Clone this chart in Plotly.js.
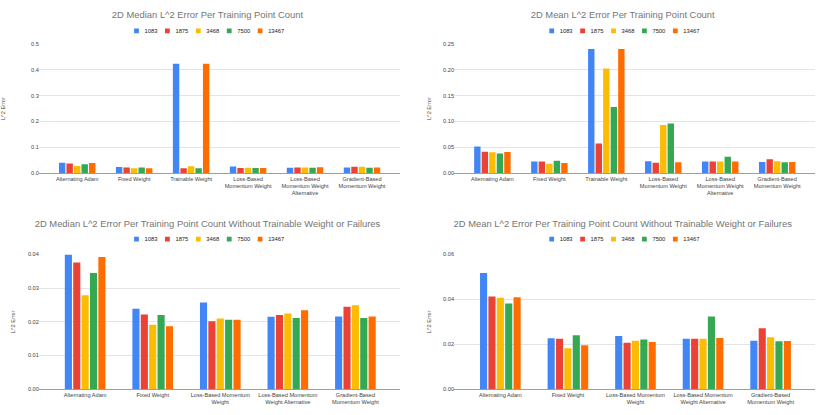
<!DOCTYPE html>
<html>
<head>
<meta charset="utf-8">
<script src="https://cdn.plot.ly/plotly-3.0.1.min.js"></script>
<style>
  html, body { margin: 0; padding: 0; background: #fff; overflow: hidden; }
  #wrap { position: absolute; left: 0; top: 0; width: 2075px; height: 1037.5px; transform: scale(0.4); transform-origin: 0 0; }
  .chart { position: absolute; }
</style>
</head>
<body>
<div id="wrap">
  <div id="tl" class="chart" style="left:0;top:0;width:1037.5px;height:517.5px"></div>
  <div id="tr" class="chart" style="left:1037.5px;top:0;width:1037.5px;height:517.5px"></div>
  <div id="bl" class="chart" style="left:0;top:517.5px;width:1037.5px;height:520px"></div>
  <div id="br" class="chart" style="left:1037.5px;top:517.5px;width:1037.5px;height:520px"></div>
</div>
<script>
// ---- data ----
const seriesNames = ["1083", "1875", "3468", "7500", "13467"];
const seriesColors = ["#4285F4", "#EA4335", "#FBBC04", "#34A853", "#FF6D01"];

const categoriesAll = [
  "Alternating Adam",
  "Fixed Weight",
  "Trainable Weight",
  "Loss-Based<br>Momentum Weight",
  "Loss-Based<br>Momentum Weight<br>Alternative",
  "Gradient-Based<br>Momentum Weight"
];
const categoriesClean = [
  "Alternating Adam",
  "Fixed Weight",
  "Loss-Based Momentum<br>Weight",
  "Loss-Based Momentum<br>Weight Alternative",
  "Gradient-Based<br>Momentum Weight"
];

// Median, all methods (one array per training point count)
const medianAll1083  = [0.0400, 0.0239, 0.4240, 0.0257, 0.0215, 0.0216];
const medianAll1875  = [0.0376, 0.0222, 0.0190, 0.0202, 0.0220, 0.0245];
const medianAll3468  = [0.0279, 0.0191, 0.0270, 0.0210, 0.0225, 0.0249];
const medianAll7500  = [0.0345, 0.0220, 0.0190, 0.0206, 0.0211, 0.0211];
const medianAll13467 = [0.0392, 0.0187, 0.4240, 0.0206, 0.0234, 0.0216];

// Mean, all methods
const meanAll1083  = [0.0517, 0.0227, 0.2403, 0.0233, 0.0225, 0.0216];
const meanAll1875  = [0.0413, 0.0225, 0.0576, 0.0200, 0.0225, 0.0271];
const meanAll3468  = [0.0407, 0.0182, 0.2027, 0.0934, 0.0225, 0.0231];
const meanAll7500  = [0.0382, 0.0240, 0.1282, 0.0962, 0.0320, 0.0213];
const meanAll13467 = [0.0409, 0.0196, 0.2403, 0.0210, 0.0228, 0.0215];

// Median, without trainable weight or failures
const medianClean1083  = [0.0400, 0.0239, 0.0257, 0.0215, 0.0216];
const medianClean1875  = [0.0376, 0.0222, 0.0202, 0.0220, 0.0245];
const medianClean3468  = [0.0279, 0.0191, 0.0210, 0.0225, 0.0249];
const medianClean7500  = [0.0345, 0.0220, 0.0206, 0.0211, 0.0211];
const medianClean13467 = [0.0392, 0.0187, 0.0206, 0.0234, 0.0216];

// Mean, without trainable weight or failures
const meanClean1083  = [0.0517, 0.0227, 0.0237, 0.0225, 0.0216];
const meanClean1875  = [0.0413, 0.0225, 0.0207, 0.0225, 0.0271];
const meanClean3468  = [0.0407, 0.0182, 0.0216, 0.0225, 0.0231];
const meanClean7500  = [0.0382, 0.0240, 0.0221, 0.0324, 0.0213];
const meanClean13467 = [0.0409, 0.0196, 0.0210, 0.0228, 0.0215];

// ---- drawing ----
const FONT = "Arial, 'Liberation Sans', sans-serif";

function makeTraces(cats, seriesValues) {
  return seriesValues.map((vals, i) => ({
    type: "bar",
    name: seriesNames[i],
    x: cats,
    y: vals,
    marker: { color: seriesColors[i], line: { width: 0 } },
    hoverinfo: "x+y+name"
  }));
}

function draw(id, opts) {
  const layout = {
    width: opts.w, height: opts.h,
    margin: { l: 97.5, r: 37.5, t: opts.t, b: opts.b, pad: 0 },
    paper_bgcolor: "#ffffff", plot_bgcolor: "#ffffff",
    font: { family: FONT, color: "#444444", size: 14 },
    title: {
      text: opts.title,
      font: { family: FONT, size: 23.5, color: "#757575" },
      x: 0.5, xref: "container", xanchor: "center",
      y: opts.titleY, yref: "container", yanchor: "middle"
    },
    showlegend: true,
    legend: {
      orientation: "h",
      x: 0.5, xref: "container", xanchor: "center",
      y: opts.legendY, yref: "container", yanchor: "middle",
      font: { family: FONT, size: 14.5, color: "#222222" },
      itemwidth: 30, traceorder: "normal"
    },
    barmode: "group",
    bargap: opts.bargap, bargroupgap: 0.15,
    xaxis: {
      type: "category",
      range: opts.xrange,
      showgrid: false, zeroline: false,
      showline: true, linecolor: "#9e9e9e", linewidth: 2.5,
      ticks: "", tickfont: { family: FONT, size: 14, color: "#444444" },
      automargin: false
    },
    yaxis: {
      range: opts.yrange, dtick: opts.dtick, tick0: 0,
      tickformat: opts.tickformat,
      showgrid: true, gridcolor: "#e4e4e4", gridwidth: 2.5,
      zeroline: false, showline: false,
      ticks: "", tickfont: { family: FONT, size: 14, color: "#444444" },
      automargin: false,
      title: { text: "L^2 Error", font: { family: FONT, size: 14, color: "#444444" }, standoff: opts.standoff }
    }
  };
  Plotly.newPlot(id, makeTraces(opts.cats, opts.series), layout, { staticPlot: true, displayModeBar: false });
}

draw("tl", {
  w: 1037.5, h: 517.5, t: 110, b: 85,
  title: "2D Median L^2 Error Per Training Point Count",
  titleY: 1 - 15 / 207, legendY: 1 - 31 / 207,
  cats: categoriesAll,
  series: [medianAll1083, medianAll1875, medianAll3468, medianAll7500, medianAll13467],
  xrange: [-0.667, 5.667], yrange: [0, 0.5], dtick: 0.1, tickformat: ".1f",
  bargap: 0.34, standoff: 72
});
draw("tr", {
  w: 1037.5, h: 517.5, t: 110, b: 85,
  title: "2D Mean L^2 Error Per Training Point Count",
  titleY: 1 - 15 / 207, legendY: 1 - 31 / 207,
  cats: categoriesAll,
  series: [meanAll1083, meanAll1875, meanAll3468, meanAll7500, meanAll13467],
  xrange: [-0.667, 5.667], yrange: [0, 0.25], dtick: 0.05, tickformat: ".2f",
  bargap: 0.34, standoff: 27
});
draw("bl", {
  w: 1037.5, h: 520, t: 117.5, b: 65,
  title: "2D Median L^2 Error Per Training Point Count Without Trainable Weight or Failures",
  titleY: 1 - 17 / 208, legendY: 1 - 32 / 208,
  cats: categoriesClean,
  series: [medianClean1083, medianClean1875, medianClean3468, medianClean7500, medianClean13467],
  xrange: [-0.68, 4.66], yrange: [0, 0.04], dtick: 0.01, tickformat: ".2f",
  bargap: 0.38, standoff: 27
});
draw("br", {
  w: 1037.5, h: 520, t: 117.5, b: 65,
  title: "2D Mean L^2 Error Per Training Point Count Without Trainable Weight or Failures",
  titleY: 1 - 17 / 208, legendY: 1 - 32 / 208,
  cats: categoriesClean,
  series: [meanClean1083, meanClean1875, meanClean3468, meanClean7500, meanClean13467],
  xrange: [-0.68, 4.66], yrange: [0, 0.06], dtick: 0.02, tickformat: ".2f",
  bargap: 0.38, standoff: 27
});
</script>
</body>
</html>
